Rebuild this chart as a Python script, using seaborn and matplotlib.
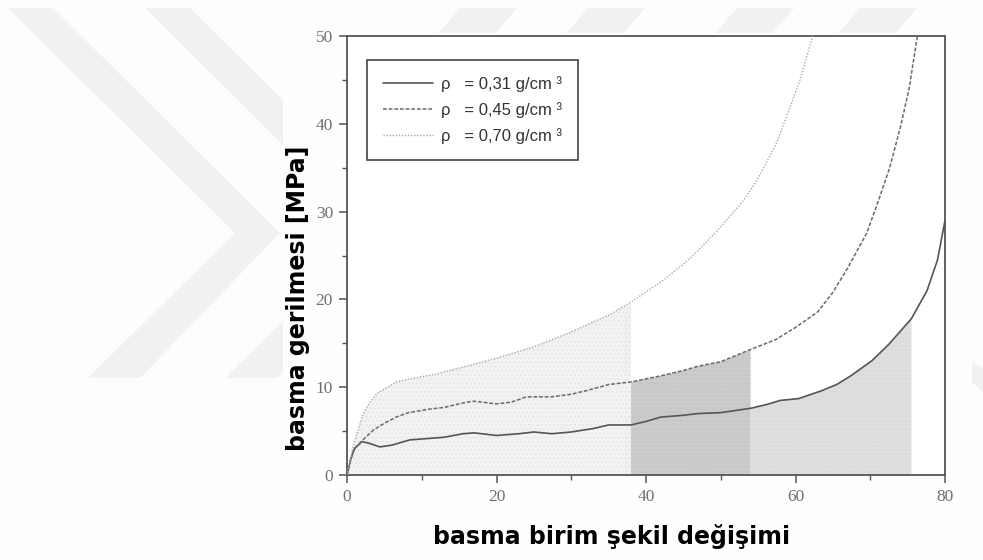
import numpy as np
import matplotlib
matplotlib.use("Agg")
import matplotlib.pyplot as plt
import seaborn as sns
from matplotlib.patches import Polygon, Rectangle

# strain [%] and stress [MPa]
strain_031 = [0, 0.5, 1.0, 2.0, 3.0, 4.4, 6, 8.4, 10, 13, 15.5, 17, 20, 23, 25, 27.4, 30, 33, 35, 38,
              40, 42, 45, 47, 50, 54, 56, 58, 60.4, 63.5, 65.5, 67.4, 70.2, 72.5, 75.5, 77.6, 79, 80]
stress_031 = [0, 1.8, 3.0, 3.8, 3.6, 3.2, 3.4, 4.0, 4.1, 4.3, 4.7, 4.8, 4.5, 4.7, 4.9, 4.7, 4.9, 5.3, 5.7, 5.7,
              6.1, 6.6, 6.8, 7.0, 7.1, 7.6, 8.0, 8.5, 8.7, 9.6, 10.3, 11.3, 13.0, 14.9, 17.8, 21.0, 24.5, 29.0]

strain_045 = [0, 0.5, 1.0, 2.0, 3.5, 5, 6.6, 8.2, 11, 13, 16, 17, 20, 22, 24, 27.4, 30, 32, 35, 38,
              42, 45, 47, 50, 54, 57.3, 60, 63, 65, 67, 69.5, 71, 72.6, 74, 75.2, 76.3]
stress_045 = [0, 1.8, 3.0, 3.9, 5.1, 5.9, 6.6, 7.1, 7.5, 7.7, 8.3, 8.4, 8.1, 8.3, 8.9, 8.9, 9.2, 9.6, 10.3, 10.6,
              11.3, 11.9, 12.4, 12.9, 14.3, 15.4, 16.8, 18.6, 20.8, 23.6, 27.5, 31.0, 35.0, 39.5, 44.0, 50.0]

strain_070 = [0, 0.4, 0.8, 1.5, 2.2, 3, 4, 5, 6.6, 8.2, 10, 12, 16, 20, 25, 30, 35, 38,
              42, 45, 47, 49.5, 52.8, 54.8, 57.3, 58.8, 60.6, 62.3]
stress_070 = [0, 1.5, 3.2, 5.2, 7.0, 8.2, 9.3, 9.8, 10.6, 10.9, 11.2, 11.5, 12.4, 13.3, 14.6, 16.3, 18.2, 19.7,
              22.0, 24.0, 25.6, 27.8, 31.0, 33.5, 37.5, 40.8, 45.0, 50.0]

labels = ["ρ   = 0,31 g/cm ³", "ρ   = 0,45 g/cm ³", "ρ   = 0,70 g/cm ³"]

# shaded strain ranges
zone_light = (0, 38)
zone_dark = (38, 54)
zone_mid = (54, 75.5)


def px(x, y):
    return (x / 983, 1 - y / 560)


sns.set_theme(style="white")
plt.rcParams["font.family"] = ["DejaVu Sans"]
plt.rcParams["hatch.linewidth"] = 0.6

fig = plt.figure(figsize=(9.83, 5.6), dpi=100)
fig.patch.set_facecolor("#fdfdfd")

# faint watermark behind the chart
wm = "#f1f1f1"
chev = [(8, 8), (53, 8), (280, 233), (140, 378), (88, 378), (235, 233)]
for dx in (0, 137):
    fig.patches.append(Polygon([px(x + dx, y) for x, y in chev], closed=True, transform=fig.transFigure,
                               facecolor=wm, edgecolor="none", zorder=0))
for a in (460, 588, 737, 860):
    fig.patches.append(Polygon([px(a, 8), px(a + 57, 8), px(a + 25, 45), px(a - 32, 45)], closed=True,
                               transform=fig.transFigure, facecolor=wm, edgecolor="none", zorder=0))
fig.patches.append(Polygon([px(972, 362), px(983, 368), px(983, 392), px(972, 382)], closed=True,
                           transform=fig.transFigure, facecolor=wm, edgecolor="none", zorder=0))
fig.patches.append(Rectangle(px(283, 560), 685 / 983, 527 / 560, transform=fig.transFigure,
                             facecolor="#fefefe", edgecolor="none", zorder=0.5))

ax = fig.add_axes([347 / 983, 85 / 560, 598 / 983, 439 / 560])
ax.set_zorder(2)
ax.set_facecolor("white")

x1, y1 = np.array(strain_031), np.array(stress_031)
x2, y2 = np.array(strain_045), np.array(stress_045)
x3, y3 = np.array(strain_070), np.array(stress_070)

m = (x3 >= zone_light[0]) & (x3 <= zone_light[1])
ax.fill_between(x3[m], 0, y3[m], facecolor="#f2f2f2", edgecolor="#e3e3e3", hatch="....", linewidth=0, zorder=1)
m = (x2 >= zone_dark[0]) & (x2 <= zone_dark[1])
ax.fill_between(x2[m], 0, y2[m], facecolor="#cbcbcb", edgecolor="#c2c2c2", hatch="....", linewidth=0, zorder=1)
m = (x1 >= zone_mid[0]) & (x1 <= zone_mid[1])
ax.fill_between(x1[m], 0, y1[m], facecolor="#dedede", edgecolor="#d6d6d6", hatch="....", linewidth=0, zorder=1)

sns.lineplot(x=strain_031, y=stress_031, ax=ax, color="#555555", linewidth=1.2, label=labels[0], zorder=3)
sns.lineplot(x=strain_045, y=stress_045, ax=ax, color="#6a6a6a", linewidth=1.1, label=labels[1], zorder=3)
sns.lineplot(x=strain_070, y=stress_070, ax=ax, color="#aaaaaa", linewidth=1.0, label=labels[2], zorder=3)
ax.lines[1].set_dashes([2.5, 1.2])
ax.lines[2].set_dashes([1.0, 1.2])

ax.set_xlim(0, 80)
ax.set_ylim(0, 50)
ax.set_xticks([0, 20, 40, 60, 80])
ax.set_xticks([10, 30, 50, 70], minor=True)
ax.set_yticks([0, 10, 20, 30, 40, 50])
ax.set_yticks([5, 15, 25, 35, 45], minor=True)
ax.tick_params(which="major", direction="out", length=6, width=1.1, color="#555555", pad=4,
               labelsize=12.5, labelcolor="#707070", bottom=True, left=True)
ax.tick_params(which="minor", direction="out", length=3.5, width=1.0, color="#555555", bottom=True, left=True)
for t in ax.get_xticklabels() + ax.get_yticklabels():
    t.set_family(["Liberation Serif", "DejaVu Serif"])

for s in ax.spines.values():
    s.set_visible(True)
    s.set_color("#555555")
    s.set_linewidth(1.3)

ax.set_xlabel("basma birim şekil değişimi", fontsize=17, fontweight="bold", color="black")
ax.set_ylabel("basma gerilmesi [MPa]", fontsize=17, fontweight="bold", color="black")
ax.xaxis.label.set_va("center")
ax.yaxis.label.set_va("center")
ax.xaxis.set_label_coords(0.443, -0.141)
ax.yaxis.set_label_coords(-0.082, 0.402)

leg = ax.legend(loc="upper left", bbox_to_anchor=(0.033, 0.945), borderaxespad=0, frameon=True,
                fancybox=False, edgecolor="#444444", framealpha=1, handlelength=3.0, handletextpad=0.5,
                borderpad=0.95, labelspacing=0.6,
                prop={"family": ["Liberation Sans Narrow", "Liberation Sans"], "size": 12})
leg.get_frame().set_linewidth(1.2)
for t in leg.get_texts():
    t.set_color("#333333")

fig.savefig("out.png", dpi=100)
